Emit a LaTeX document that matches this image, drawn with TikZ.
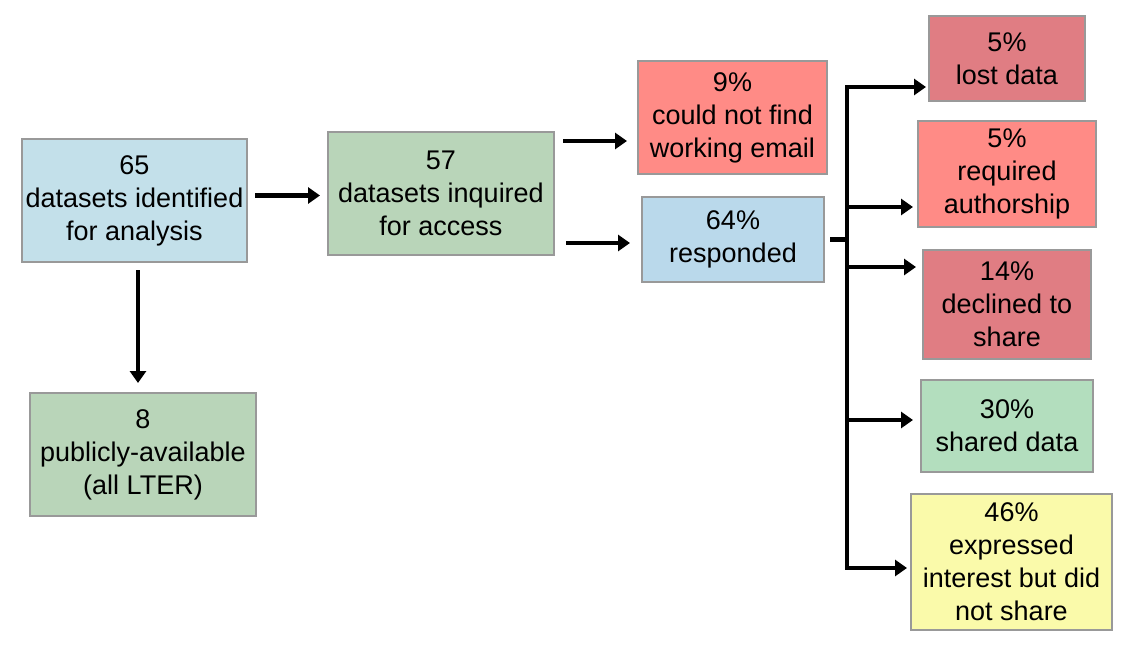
\documentclass[tikz,border=0pt]{standalone}
\usepackage{fontspec}
\setmainfont{Liberation Sans}
\usetikzlibrary{arrows.meta}
\definecolor{cA}{HTML}{C3E0EA}
\definecolor{cG}{HTML}{B9D5B9}
\definecolor{cSal}{HTML}{FF8B86}
\definecolor{cRed}{HTML}{E07D83}
\definecolor{cE}{HTML}{BAD9EB}
\definecolor{cI}{HTML}{B3DEBE}
\definecolor{cJ}{HTML}{FAFAAA}
\definecolor{cBorder}{HTML}{999999}
\tikzset{
  box/.style={draw=cBorder, line width=2pt, align=center, inner sep=0pt,
    font=\fontsize{27}{33}\selectfont},
  arr/.style={line width=4.5pt, -{Triangle[length=12pt,width=16pt]}},
  wire/.style={line width=4.5pt, line cap=rect},
}
\begin{document}
\begin{tikzpicture}[x=1pt,y=-1pt]
\useasboundingbox[fill=white] (0,0) rectangle (1128,648);
\node[box, fill=cA, minimum width=225pt, minimum height=123pt] (A) at (134.5,200.5) {65\\datasets identified\\for analysis};
\node[box, fill=cG, minimum width=226pt, minimum height=123pt] (B) at (441,193.5) {57\\datasets inquired\\for access};
\node[box, fill=cG, minimum width=226pt, minimum height=123pt] (C) at (143,454.5) {8\\publicly-available\\(all LTER)};
\node[box, fill=cSal, minimum width=189pt, minimum height=113pt] (D) at (732.5,117.5) {9\%\\could not find\\working email};
\node[box, fill=cE, minimum width=182pt, minimum height=85pt] (E) at (733,239.5) {64\%\\responded};
\node[box, fill=cRed, minimum width=156pt, minimum height=85pt] (F) at (1007,58.5) {5\%\\lost data};
\node[box, fill=cSal, minimum width=178pt, minimum height=106pt] (G) at (1007,174) {5\%\\required\\authorship};
\node[box, fill=cRed, minimum width=168pt, minimum height=109pt] (H) at (1007,304.5) {14\%\\declined to\\share};
\node[box, fill=cI, minimum width=172pt, minimum height=92pt] (I) at (1007,426) {30\%\\shared data};
\node[box, fill=cJ, minimum width=201pt, minimum height=136pt] (J) at (1011.5,562) {46\%\\expressed\\interest but did\\not share};
% A -> B
\coordinate (ab) at ([xshift=7pt,yshift=5pt]A.east);
\draw[arr, shorten >=7pt] (ab) -- (ab -| B.west);
% A -> C
\coordinate (ac) at ([xshift=3.5pt,yshift=-7pt]A.south);
\draw[arr, shorten >=9pt] (ac) -- (ac |- C.north);
% B -> D
\coordinate (bd) at ([xshift=8pt,yshift=-10pt]B.north east);
\draw[arr, shorten >=10pt] (bd) -- (bd -| D.west);
% B -> E
\coordinate (be) at ([xshift=11pt,yshift=13pt]B.south east);
\draw[arr, shorten >=11pt] (be) -- (be -| E.west);
% E -> tree
\coordinate (es) at ([xshift=5pt]E.east);
\coordinate (t) at ([xshift=22pt]E.east);
\coordinate (fb) at ([yshift=15pt]F.south west);
\coordinate (gb) at ([yshift=21pt]G.south west);
\coordinate (hb) at ([yshift=-18pt]H.north west);
\coordinate (ib) at ([yshift=6pt]I.west);
\coordinate (jb) at ([yshift=-6pt]J.west);
\draw[line width=4.5pt] (es) -- (t);
\draw[wire] (t |- fb) -- (t |- jb);
\draw[arr, shorten >=2pt] (t |- fb) -- (fb);
\draw[arr, shorten >=4pt] (t |- gb) -- (gb);
\draw[arr, shorten >=6pt] (t |- hb) -- (hb);
\draw[arr, shorten >=7pt] (t |- ib) -- (ib);
\draw[arr, shorten >=3pt] (t |- jb) -- (jb);
\end{tikzpicture}
\end{document}
